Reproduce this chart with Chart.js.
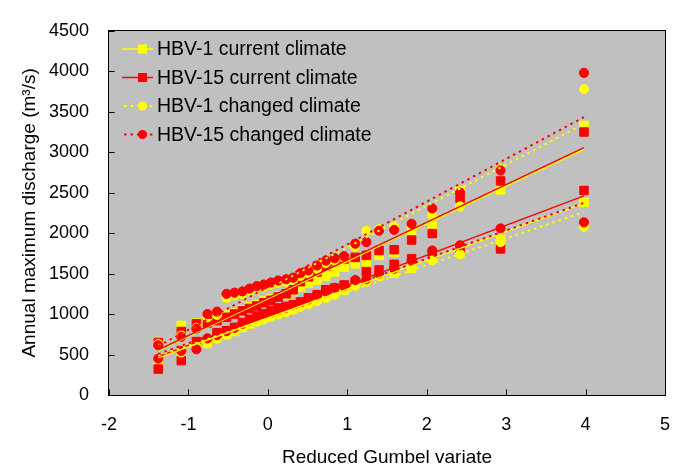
<!DOCTYPE html>
<html>
<head>
<meta charset="utf-8">
<script src="https://cdn.jsdelivr.net/npm/chart.js@4.4.1/dist/chart.umd.min.js"></script>
<style>
  html, body { margin: 0; padding: 0; background: #fff; }
</style>
</head>
<body>
<canvas id="chart" width="689" height="467"></canvas>
<script>
// Gumbel plot: annual maximum discharge vs reduced variate (two sites, four runs)

// Reduced Gumbel variate of the 30 ranked years
const gumbelX = [-1.38, -1.09, -0.90, -0.76, -0.64, -0.52, -0.42, -0.32, -0.23, -0.14,
                 -0.05, 0.04, 0.13, 0.23, 0.32, 0.41, 0.51, 0.62, 0.73, 0.84,
                 0.96, 1.10, 1.24, 1.40, 1.59, 1.81, 2.07, 2.42, 2.93, 3.98];

// Upper site
const hbv1CurrentA = [660, 860, 890, 905, 930, 985, 1010, 1050, 1090, 1120,
                      1160, 1190, 1220, 1240, 1280, 1330, 1380, 1420, 1470, 1520,
                      1580, 1620, 1630, 1725, 1760, 2025, 2085, 2520, 2535, 3330];
const hbv15CurrentA = [650, 785, 880, 890, 920, 960, 1000, 1040, 1070, 1100,
                       1140, 1170, 1210, 1250, 1300, 1400, 1460, 1520, 1590, 1650,
                       1680, 1700, 1725, 1785, 1795, 1915, 1995, 2430, 2645, 3250];
const hbv1ChangedA = [630, 735, 830, 960, 990, 1200, 1230, 1250, 1290, 1320,
                      1340, 1365, 1385, 1400, 1420, 1470, 1500, 1560, 1630, 1660,
                      1690, 1830, 2025, 2050, 2080, 2100, 2220, 2330, 2790, 3780];
const hbv15ChangedA = [615, 720, 820, 1000, 1030, 1250, 1265, 1280, 1315, 1345,
                       1365, 1390, 1415, 1430, 1450, 1505, 1540, 1600, 1660, 1690,
                       1715, 1870, 1890, 2030, 2040, 2115, 2305, 2500, 2775, 3980];

// Lower site
const hbv1CurrentB = [420, 510, 630, 640, 710, 750, 790, 840, 880, 920,
                      955, 995, 1025, 1055, 1085, 1115, 1145, 1180, 1220, 1260,
                      1300, 1380, 1425, 1480, 1505, 1564, 1700, 1760, 1925, 2379];
const hbv15CurrentB = [320, 425, 660, 670, 770, 795, 835, 895, 935, 975,
                       1005, 1045, 1075, 1095, 1115, 1150, 1200, 1240, 1300, 1320,
                       1360, 1400, 1525, 1545, 1615, 1685, 1740, 1790, 1805, 2527];
const hbv1ChangedB = [455, 525, 595, 635, 695, 745, 785, 835, 875, 905,
                      935, 965, 995, 1025, 1055, 1090, 1120, 1160, 1200, 1240,
                      1300, 1350, 1400, 1470, 1530, 1600, 1665, 1740, 1890, 2078];
const hbv15ChangedB = [450, 545, 565, 700, 740, 790, 830, 880, 920, 960,
                       990, 1020, 1050, 1080, 1110, 1140, 1180, 1230, 1280, 1324,
                       1344, 1420, 1430, 1500, 1560, 1660, 1785, 1850, 2058, 2133];

const seriesNames = ['HBV-1 current climate', 'HBV-15 current climate',
                     'HBV-1 changed climate', 'HBV-15 changed climate'];

const YELLOW = '#ffff00';
const RED = '#ff0000';
const FONT = "'Liberation Sans', Arial, sans-serif";

const series = [
  { name: seriesNames[0], color: YELLOW, marker: 'rect', dashed: false, a: hbv1CurrentA, b: hbv1CurrentB },
  { name: seriesNames[1], color: RED, marker: 'rect', dashed: false, a: hbv15CurrentA, b: hbv15CurrentB },
  { name: seriesNames[2], color: YELLOW, marker: 'circle', dashed: true, a: hbv1ChangedA, b: hbv1ChangedB },
  { name: seriesNames[3], color: RED, marker: 'circle', dashed: true, a: hbv15ChangedA, b: hbv15ChangedB }
];

// Least-squares trend line over the plotted range (like a spreadsheet linear trendline)
function trendLine(xs, ys) {
  const n = xs.length;
  const mx = xs.reduce((s, v) => s + v, 0) / n;
  const my = ys.reduce((s, v) => s + v, 0) / n;
  let sxy = 0, sxx = 0;
  for (let i = 0; i < n; i++) {
    sxy += (xs[i] - mx) * (ys[i] - my);
    sxx += (xs[i] - mx) * (xs[i] - mx);
  }
  const slope = sxy / sxx;
  const icpt = my - slope * mx;
  const x0 = xs[0], x1 = xs[n - 1];
  return [{ x: x0, y: icpt + slope * x0 }, { x: x1, y: icpt + slope * x1 }];
}

const toPoints = ys => ys.map((y, i) => ({ x: gumbelX[i], y: y }));

const datasets = [];
series.forEach((s, i) => {
  datasets.push({
    label: s.name,
    data: toPoints(s.a).concat(toPoints(s.b)),
    showLine: false,
    pointStyle: s.marker,
    pointRadius: s.marker === 'rect' ? 6 : 4.6,
    pointHoverRadius: 0,
    pointBackgroundColor: s.color,
    pointBorderColor: s.color,
    pointBorderWidth: 1,
    order: 10 - i
  });
});
series.forEach((s, i) => {
  [s.a, s.b].forEach(ys => {
    datasets.push({
      label: '',
      data: trendLine(gumbelX, ys),
      showLine: true,
      pointRadius: 0,
      borderColor: s.color,
      borderWidth: s.dashed ? 2 : 1.5,
      borderDash: s.dashed ? [2.5, 4] : [],
      order: 4 - i
    });
  });
});

// Grey plot area, black frame and inward tick marks
const plotFrame = {
  id: 'plotFrame',
  beforeDraw(chart) {
    const { ctx, chartArea: a } = chart;
    ctx.save();
    ctx.fillStyle = '#c0c0c0';
    ctx.fillRect(a.left, a.top, a.right - a.left, a.bottom - a.top);
    ctx.restore();
  },
  afterDraw(chart) {
    const { ctx, chartArea: a, scales } = chart;
    ctx.save();
    ctx.strokeStyle = '#000';
    ctx.lineWidth = 1;
    const l = Math.round(a.left) - 0.5, r = Math.round(a.right) + 0.5;
    const t = Math.round(a.top) - 0.5, b = Math.round(a.bottom) + 0.5;
    ctx.strokeRect(l, t, r - l, b - t);
    ctx.beginPath();
    scales.x.ticks.forEach(tk => {
      const px = Math.round(scales.x.getPixelForValue(tk.value)) + 0.5;
      ctx.moveTo(px, b);
      ctx.lineTo(px, b - 6);
    });
    scales.y.ticks.forEach(tk => {
      const py = Math.round(scales.y.getPixelForValue(tk.value)) + 0.5;
      ctx.moveTo(l, py);
      ctx.lineTo(l + 6, py);
    });
    ctx.stroke();
    ctx.restore();
  }
};

// Legend drawn as line + marker samples, the way the original shows them
const lineLegend = {
  id: 'lineLegend',
  afterDraw(chart) {
    const { ctx } = chart;
    const rowY = [49, 77.5, 106, 134.5];
    ctx.save();
    ctx.font = '19.5px ' + FONT;
    ctx.textBaseline = 'middle';
    series.forEach((s, i) => {
      const y = rowY[i];
      ctx.strokeStyle = s.color;
      ctx.lineWidth = s.dashed ? 2 : 1.5;
      ctx.setLineDash(s.dashed ? [2.5, 4] : []);
      ctx.beginPath();
      ctx.moveTo(s.dashed ? 124 : 122, y);
      ctx.lineTo(153, y);
      ctx.stroke();
      ctx.setLineDash([]);
      ctx.fillStyle = s.color;
      if (s.marker === 'rect') {
        ctx.fillRect(138, y - 4.5, 9, 9);
      } else {
        ctx.beginPath();
        ctx.arc(142.5, y, 4.6, 0, Math.PI * 2);
        ctx.fill();
      }
      ctx.fillStyle = '#000';
      ctx.fillText(s.name, 157, y + 1);
    });
    ctx.restore();
  }
};

new Chart(document.getElementById('chart'), {
  type: 'scatter',
  data: { datasets: datasets },
  plugins: [plotFrame, lineLegend],
  options: {
    responsive: false,
    animation: false,
    events: [],
    layout: { padding: { left: 0, right: 19, top: 21, bottom: 0 } },
    plugins: {
      legend: { display: false },
      tooltip: { enabled: false }
    },
    scales: {
      x: {
        type: 'linear',
        min: -2,
        max: 5,
        ticks: { stepSize: 1, color: '#000', padding: 19, font: { family: FONT, size: 18 },
                 callback: v => String(v) },
        grid: { display: false, drawTicks: false },
        border: { display: false },
        title: {
          display: true,
          text: 'Reduced Gumbel variate',
          color: '#000',
          font: { family: FONT, size: 19, lineHeight: 1 },
          padding: { top: 0, bottom: 0 }
        },
        afterFit: scale => { scale.height = 72; }
      },
      y: {
        min: 0,
        max: 4500,
        ticks: { stepSize: 500, color: '#000', padding: 20, font: { family: FONT, size: 18 },
                 callback: v => String(v) },
        grid: { display: false, drawTicks: false },
        border: { display: false },
        title: {
          display: true,
          text: 'Annual maximum discharge (m³/s)',
          color: '#000',
          font: { family: FONT, size: 19, lineHeight: 1 },
          padding: { top: 20, bottom: 0 }
        },
        afterFit: scale => { scale.width = 109; }
      }
    }
  }
});
</script>
</body>
</html>
